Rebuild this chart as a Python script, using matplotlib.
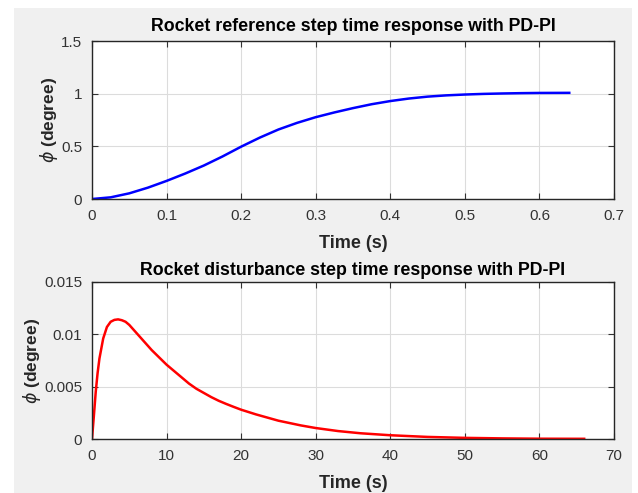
import matplotlib.pyplot as plt
from matplotlib.patches import Rectangle


# reference step response
t_ref = [0.0, 0.025, 0.05, 0.075, 0.1, 0.125, 0.15, 0.175, 0.2, 0.225,
         0.25, 0.275, 0.3, 0.325, 0.35, 0.375, 0.4, 0.425, 0.45, 0.475,
         0.5, 0.525, 0.55, 0.575, 0.6, 0.64]
phi_ref = [0.0, 0.016, 0.054, 0.108, 0.172, 0.242, 0.318, 0.404, 0.497, 0.583,
           0.66, 0.723, 0.777, 0.822, 0.863, 0.9, 0.93, 0.954, 0.972, 0.984,
           0.992, 0.998, 1.002, 1.005, 1.007, 1.008]

# disturbance step response
t_dist = [0.0, 0.25, 0.5, 0.75, 1.0, 1.5, 2.0, 2.5, 3.0, 3.5, 4.0, 4.5,
          5.0, 5.5, 6.0, 7.0, 8.0, 9.0, 10.0, 11.0, 12.0, 13.0, 14.0, 15.0,
          16.0, 17.0, 18.0, 19.0, 20.0, 22.0, 25.0, 28.0, 30.0, 33.0, 36.0,
          40.0, 45.0, 50.0, 55.0, 60.0, 66.0]
phi_dist = [0.0, 0.0022, 0.0045, 0.0063, 0.0077, 0.0096, 0.0107, 0.0112,
            0.01138, 0.01143, 0.01135, 0.0112, 0.0109, 0.0105, 0.0101,
            0.0093, 0.0085, 0.0078, 0.0071, 0.0065, 0.0059, 0.0053, 0.0048,
            0.0044, 0.0040, 0.00365, 0.00335, 0.00307, 0.0028, 0.00235,
            0.00175, 0.0013, 0.00105, 0.00076, 0.00055, 0.00036, 0.0002,
            0.00011, 0.00006, 0.00003, 0.00002]

ref_xticks = [0, 0.1, 0.2, 0.3, 0.4, 0.5, 0.6, 0.7]
ref_yticks = [0, 0.5, 1, 1.5]
dist_xticks = [0, 10, 20, 30, 40, 50, 60, 70]
dist_yticks = [0, 0.005, 0.01, 0.015]

plt.rcParams["font.family"] = ["Liberation Sans", "DejaVu Sans"]

fig = plt.figure(figsize=(6.38, 4.93), dpi=100, facecolor="white")
fig.patches.append(Rectangle((14 / 638, 0), (632 - 14) / 638, (493 - 8) / 493,
                             transform=fig.transFigure, facecolor="#f0f0f0",
                             edgecolor="none", zorder=-10))

ax1 = fig.add_axes([0.1442, 0.5963, 0.8182, 0.3205])
ax2 = fig.add_axes([0.1442, 0.1095, 0.8182, 0.3185])


def style(ax, xticks, yticks, xlabels, ylabels):
    ax.set_facecolor("white")
    ax.set_xticks(xticks)
    ax.set_yticks(yticks)
    ax.set_xticklabels(xlabels)
    ax.set_yticklabels(ylabels)
    ax.set_xlim(xticks[0], xticks[-1])
    ax.set_ylim(yticks[0], yticks[-1])
    ax.grid(True, color="#dcdcdc", linewidth=0.8)
    ax.set_axisbelow(True)
    ax.tick_params(direction="in", length=4, width=0.8, top=True, right=True,
                   labelsize=11, colors="#333333", pad=7)
    for s in ax.spines.values():
        s.set_color("#262626")
        s.set_linewidth(1.0)
    ax.set_xlabel("Time (s)", fontsize=13, fontweight="bold", color="#262626",
                  labelpad=9)
    ax.set_ylabel(r"$\phi$ (degree)", fontsize=12.5, fontweight="bold",
                  color="#262626", labelpad=1)


ax1.plot(t_ref, phi_ref, color="blue", linewidth=1.8)
style(ax1, ref_xticks, ref_yticks,
      ["0", "0.1", "0.2", "0.3", "0.4", "0.5", "0.6", "0.7"],
      ["0", "0.5", "1", "1.5"])
ax1.set_title("Rocket reference step time response with PD-PI",
              fontsize=12.8, fontweight="bold", pad=7)

ax2.plot(t_dist, phi_dist, color="red", linewidth=1.8)
style(ax2, dist_xticks, dist_yticks,
      ["0", "10", "20", "30", "40", "50", "60", "70"],
      ["0", "0.005", "0.01", "0.015"])
ax2.set_title("Rocket disturbance step time response with PD-PI",
              fontsize=12.8, fontweight="bold", pad=5)

fig.savefig("out.png", dpi=100, facecolor=fig.get_facecolor())
